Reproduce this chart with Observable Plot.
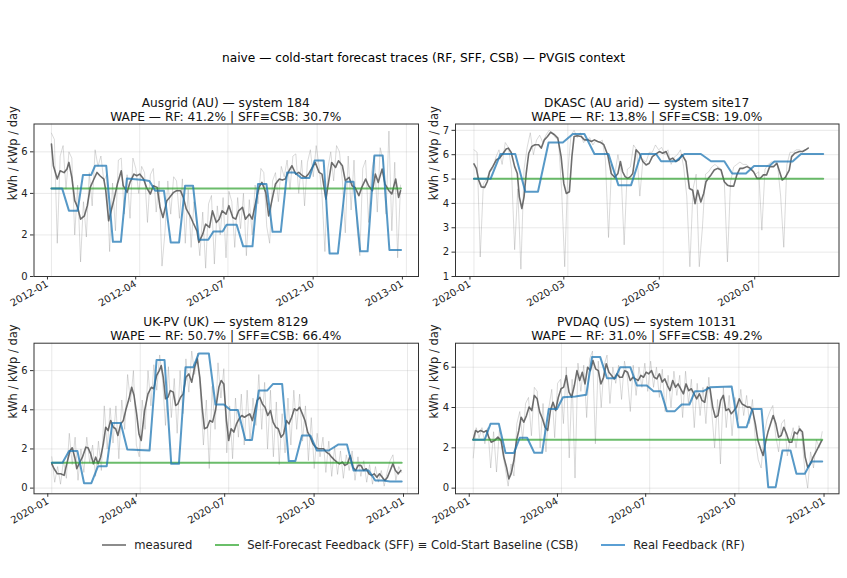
<!DOCTYPE html>
<html><head><meta charset="utf-8">
<script src="https://cdn.jsdelivr.net/npm/d3@7"></script>
<script src="https://cdn.jsdelivr.net/npm/@observablehq/plot@0.6"></script>
<style>
html,body{margin:0;padding:0;background:#fff;}
#fig{position:relative;width:847px;height:578px;overflow:hidden;font-family:"DejaVu Sans",sans-serif;color:#000;background:#fff;}
.t{position:absolute;text-align:center;white-space:nowrap;}
.panel{position:absolute;}
#legend{position:absolute;left:0;width:847px;top:537px;height:16px;display:flex;justify-content:center;align-items:center;font-size:11.6px;color:#222;}
.item{display:flex;align-items:center;margin:0 11.5px;}
.sw{width:24px;height:0;border-top:2px solid;margin-right:8px;}
</style></head>
<body><div id="fig"></div>
<script>
// ---------- text ----------
const mainTitle = "naive — cold-start forecast traces (RF, SFF, CSB) — PVGIS context";
const panelNames = ["Ausgrid (AU) — system 184", "DKASC (AU arid) — system site17", "UK-PV (UK) — system 8129", "PVDAQ (US) — system 10131"];
const wapeRF = ["41.2%", "13.8%", "50.7%", "31.0%"];
const wapeSFF = ["30.7%", "19.0%", "66.4%", "49.2%"];
const legendLabels = ["measured", "Self-Forecast Feedback (SFF) ≡ Cold-Start Baseline (CSB)", "Real Feedback (RF)"];
const yLabel = "kWh / kWp / day";
const startDates = ["2012-01-01", "2020-01-01", "2020-01-01", "2020-01-01"];

// ---------- tick labels ----------
const ausgridXTicks = ["2012-01-01","2012-04-01","2012-07-01","2012-10-01","2013-01-01"];
const dkascXTicks = ["2020-01-01","2020-03-01","2020-05-01","2020-07-01"];
const ukXTicks = ["2020-01-01","2020-04-01","2020-07-01","2020-10-01","2021-01-01"];
const pvdaqXTicks = ["2020-01-01","2020-04-01","2020-07-01","2020-10-01","2021-01-01"];
const ausgridYTicks = [0,2,4,6];
const dkascYTicks = [1,2,3,4,5,6,7];
const ukYTicks = [0,2,4,6];
const pvdaqYTicks = [0,2,4,6];

// ---------- Ausgrid ----------
const ausgridRawStep = 3;
const ausgridRaw = [6.9,6.6,1.6,5.8,6.3,4.2,6.0,5.7,2.0,4.4,
0.7,3.6,1.9,5.0,3.4,6.1,5.3,5.8,4.6,4.9,
1.2,4.5,2.2,5.6,5.7,3.0,4.9,2.8,5.7,5.2,
4.0,5.3,5.0,2.6,4.9,5.2,3.1,4.6,0.5,2.1,
4.6,3.0,4.8,4.6,2.8,4.7,1.6,4.2,1.4,3.6,
2.4,1.0,3.1,0.4,3.5,3.9,0.6,3.4,2.0,3.8,
0.9,4.1,3.6,1.4,3.8,2.3,4.0,1.0,3.7,2.0,
4.4,3.5,5.2,5.0,2.4,1.6,4.6,5.0,3.6,5.3,
4.8,5.6,4.2,5.8,5.9,4.0,5.6,3.4,5.5,6.1,
4.8,6.3,5.3,3.9,1.2,5.2,6.0,4.6,6.3,6.0,
4.6,2.1,5.8,3.2,5.6,2.4,1.0,5.2,5.6,2.6,
5.0,5.8,3.1,6.2,5.6,3.0,7.0,2.2,5.5,0.9,4.4];
const ausgridRollDay = [0,2,6,9,13,16,18,21,24,27,30,34,37,40,43,47,50,54,56,59,62,65,68,72,74,78,81,85,88,91,95,98,102,105,109,112,115,119,122,126,129,133,136,139,143,146,150,152,156,159,163,166,170,173,176,180,183,187,190,193,197,200,204,207,211,214,217,221,224,228,231,235,238,241,245,248,252,255,259,262,265,269,272,276,279,283,286,289,293,296,300,303,307,310,313,317,320,324,327,331,334,337,341,344,348,351,355,358,360];
const ausgridRoll = [6.38,5.33,4.69,5.09,5.0,5.17,5.49,4.77,3.65,3.33,2.76,2.92,3.41,4.29,4.61,5.01,4.85,4.69,4.13,2.68,3.25,3.81,4.45,5.09,4.37,4.05,4.53,4.93,4.85,4.93,4.69,4.29,3.97,4.37,4.29,3.33,2.84,3.65,3.81,4.05,4.13,4.13,3.81,3.25,2.92,2.6,2.2,1.64,2.04,2.52,2.36,3.16,2.6,2.76,3.16,3.0,3.41,2.84,2.76,3.16,3.33,2.76,3.0,2.76,3.65,4.29,4.53,4.05,2.92,3.81,4.45,4.69,4.64,4.69,5.09,5.33,4.93,5.01,4.85,4.77,4.93,5.25,5.49,5.01,4.93,3.73,4.61,5.49,5.25,5.57,5.33,4.61,4.77,4.37,4.29,3.89,4.29,4.69,4.37,4.13,4.93,4.53,5.17,4.45,4.13,3.97,4.69,3.81,4.13];
const ausgridRfDay = [0,11,18,27,32.5,41,45,56.5,63.4,71.6,77.8,95,101,107,116,123,131.6,137.8,146,152,161.7,167,176.5,180.6,191,197.7,207.3,213,221.7,228,236.5,243,250.8,257.7,266,271.4,280.7,286.8,295.4,303.3,311.5,318.4,326,333,341.6,348.5,360.5];
const ausgridRf = [4.24,4.24,3.17,3.17,4.89,4.89,5.33,5.33,1.67,1.67,4.72,4.64,4.6,4.13,4.13,1.64,1.64,4.37,4.37,1.77,1.77,2.17,2.17,2.49,2.49,1.45,1.45,4.45,4.45,2.15,2.15,5.01,5.01,4.74,4.74,5.58,5.58,1.11,1.11,4.56,4.56,1.21,1.21,5.82,5.82,1.28,1.28];
const ausgridCsb = 4.24;

// ---------- DKASC ----------
const dkascRawStep = 2;
const dkascRaw = [6.2,6.1,1.8,4.8,5.0,5.3,5.4,5.9,6.2,5.6,
6.5,6.3,5.4,2.1,4.6,1.3,5.4,6.3,6.9,6.0,
6.6,6.8,6.5,6.8,7.0,6.9,6.7,6.6,4.6,1.4,
5.3,6.8,7.0,6.7,6.9,6.5,6.6,6.7,6.4,6.6,
6.5,6.6,5.8,2.6,5.6,5.2,6.0,5.3,2.3,5.4,
5.5,6.4,6.2,4.3,5.8,5.7,6.1,6.1,6.4,6.2,
6.3,6.0,6.2,5.6,5.9,6.0,6.2,5.5,4.3,1.4,
4.6,5.2,1.4,3.0,5.2,5.3,5.5,5.6,5.5,5.4,
4.9,1.6,4.9,5.5,5.6,5.7,5.6,5.6,5.5,5.3,
5.2,5.3,2.9,5.4,5.6,5.7,5.7,5.6,4.3,2.2,
5.6,6.1,6.1,6.2,6.2,6.1,6.2,6.3];
const dkascRollDay = [0,1.5,3,4.7,6.8,8.5,10,12,14.3,16.4,18,20.6,22,23.8,26,27.7,29,30.6,32,33.4,35,37,39,41.3,43,45,47,49,51.5,53.6,55.7,57.4,59,61,62.6,64,66,68.5,70.6,72.8,75,77,79,81,83,85.5,87.7,90,92,93.6,95,96.6,98.3,100,101.5,103.6,105.7,107.9,110,112,114,116.4,118.5,120.6,122.8,125,127,129,131,133,135.5,137.7,139.8,141.3,143,145,146.8,148.3,149.8,151.5,153.6,155.7,157.9,160,162,164,166,168,170,172,174.5,176.6,178.7,180.9,183,185,187,189,191.5,193.6,195.7,197,199,201.5,203,205,208,210,212,213.6];
const dkascRoll = [5.62,5.44,4.96,4.68,4.66,4.89,5.3,5.51,5.79,5.86,6.0,6.23,6.27,6.09,5.51,5.23,4.27,3.79,4.27,5.23,6.06,6.34,6.41,6.41,6.27,6.61,6.75,6.92,6.82,6.68,5.92,4.82,4.41,4.48,5.92,6.75,6.78,6.75,6.61,6.61,6.54,6.61,6.54,6.5,6.41,5.99,5.23,5.07,5.23,5.72,5.3,5.1,5.03,5.1,5.23,6.2,6.06,5.72,5.58,5.65,5.92,6.03,6.13,6.06,6.13,5.79,5.86,5.72,5.79,6.0,5.72,4.61,4.54,3.99,4.54,4.06,4.41,4.89,5.03,5.17,5.37,5.44,5.37,4.89,4.75,4.71,4.71,5.17,5.44,5.44,5.51,5.44,5.3,5.03,5.03,5.17,5.17,5.51,5.51,5.65,5.23,4.96,5.07,5.37,5.92,6.06,6.13,6.13,6.2,6.27];
const dkascRfDay = [0,10.6,17,26.4,32.8,40.9,47.7,56.8,63.2,70.6,77,86,92.3,100.4,106.8,116.4,119.6,129,134.5,145,151.5,160,165,173.8,179,188.7,192,203.6,209,223.2];
const dkascRf = [5.01,5.01,6.03,6.03,4.48,4.48,6.5,6.5,6.85,6.85,6.03,6.03,4.75,4.75,6.03,6.03,5.73,5.73,6.03,6.03,5.73,5.73,5.23,5.23,5.54,5.54,5.72,5.72,6.03,6.03];
const dkascCsb = 5.01;

// ---------- UK-PV ----------
const ukRawStep = 3;
const ukRaw = [1.6,0.3,1.1,0.2,1.4,0.5,2.8,1.2,2.6,0.4,
2.0,0.8,2.6,1.3,2.2,0.6,2.4,0.9,4.2,2.0,
4.1,2.3,4.2,1.5,4.5,3.0,5.8,4.4,6.0,2.2,
1.6,4.5,3.0,6.0,4.2,6.3,5.0,6.8,5.5,3.2,
6.2,3.6,5.6,2.8,6.0,3.8,6.6,4.9,7.0,5.8,
6.9,4.8,2.2,4.5,1.0,5.2,3.0,6.4,4.6,6.1,
1.8,4.2,1.5,4.6,2.6,4.8,2.2,5.0,2.4,4.6,
3.2,5.8,3.0,5.4,2.0,5.0,1.6,4.4,1.2,3.8,
1.8,4.6,2.2,5.0,3.0,4.8,2.4,4.2,1.4,3.6,
1.0,2.8,1.6,2.6,0.8,2.4,0.6,2.1,0.7,1.9,
0.5,1.7,0.9,1.9,0.4,1.6,0.6,1.4,0.3,1.2,
0.2,1.1,0.3,0.9,0.1,0.8,1.4,1.7,0.4,1.1,0.8];
const ukRollDay = [0,2.4,5.8,9.2,12.7,15.4,18.8,21,23.6,25.7,28,31.5,35,37.3,40,42.8,45.2,47.6,50.3,53,55.5,57.9,60.6,63.3,65.7,68,70.9,73.6,76,79.4,82.2,84.6,87.3,89.7,92,95.5,99,102.4,105,107.8,110.6,112.6,114.7,117,119.5,122,125,127.4,129.7,132.5,135.2,138,141,144,146.9,149.6,152.3,154.7,157,160,162.6,165.4,168.4,171.9,174.3,177,179.7,182,184.5,187.3,190,192.7,195.5,198.2,201,203.7,206.4,208.8,211.2,214,216.7,219.4,222.2,225,227.7,230.4,233,235.9,238.6,241.4,244,246.8,249.6,252.3,255,257.8,260.5,263.3,266,268.7,271.5,274.2,277,279.7,282.4,285.2,288,290.7,293.4,296,298.9,301.6,304.3,307,309.8,312.6,315.3,318,320.8,323.5,326.3,329,331.7,334.5,337.2,340,342.7,345.4,348.2,350.9,353.6,356.4,359.1];
const ukRoll = [1.24,0.99,0.73,0.73,0.65,1.24,1.92,2.06,1.58,0.99,1.24,1.58,2.09,2.06,1.75,1.24,1.58,1.24,1.58,2.26,3.11,2.94,3.45,3.11,3.03,2.69,3.28,3.45,3.96,4.56,5.15,4.73,3.79,2.77,2.43,3.96,4.81,5.15,5.07,5.75,6.0,6.26,5.66,4.56,4.64,4.98,4.9,4.22,4.3,4.64,4.81,5.66,5.83,5.41,6.17,6.6,5.66,4.13,3.03,3.11,3.45,3.37,3.96,5.15,5.49,5.32,3.45,2.43,3.03,2.86,3.28,3.54,3.71,3.62,3.71,3.79,3.45,3.96,4.47,4.64,4.3,4.13,3.71,3.96,3.37,3.11,3.03,2.6,2.77,3.45,3.28,3.62,4.05,3.96,4.13,3.79,3.45,2.86,2.6,2.26,2.09,2.01,2.01,2.01,1.84,1.75,1.58,1.44,1.33,1.24,1.33,1.16,1.24,1.67,1.07,0.9,1.16,1.16,0.9,0.99,0.73,0.65,0.73,0.56,0.73,0.56,0.39,0.56,0.9,1.24,0.9,0.73,0.9];
const ukRfDay = [0,11,17.8,26.4,33.2,40.7,47.6,56.5,62.3,70.9,77.7,100.6,107.8,116,122.9,130.8,137.6,145.5,151.3,161.6,168.4,177,183.8,191.4,199.2,206,213,221.5,227.7,237,243.8,250.6,257.4,266,272.8,285,295,303.7,310.5,326,332.8,341,348,360];
const ukRf = [1.29,1.29,1.89,1.89,0.25,0.25,1.12,1.12,3.33,3.33,1.97,1.92,6.54,6.54,1.24,1.24,6.17,6.17,6.88,6.88,4.27,4.27,3.99,3.99,2.46,2.46,4.98,4.98,5.32,5.32,1.38,1.38,2.69,2.69,1.92,1.92,2.23,2.23,0.9,0.9,0.39,0.39,0.34,0.34];
const ukCsb = 1.29;

// ---------- PVDAQ ----------
const pvdaqRawStep = 3;
const pvdaqRaw = [1.5,3.0,2.5,3.0,2.2,3.0,1.0,2.8,0.8,2.9,
1.8,1.0,0.1,1.2,0.6,3.2,3.8,2.4,4.2,4.5,
2.6,5.0,4.8,2.0,4.2,1.8,4.0,4.9,2.5,5.2,
5.4,3.2,6.0,1.5,5.4,0.5,6.2,4.8,6.1,3.5,
6.4,6.8,2.2,6.3,4.0,6.1,6.6,4.2,6.0,5.2,
6.1,4.4,6.3,5.5,3.8,6.1,4.6,6.0,5.0,6.2,
4.8,6.3,5.0,6.0,4.5,5.9,3.8,5.6,4.0,5.8,
4.6,5.6,3.5,5.8,4.2,5.4,3.0,5.2,3.6,5.0,
3.2,5.5,3.8,2.0,4.4,1.2,5.0,3.0,4.6,2.6,
4.5,3.4,4.9,3.6,4.6,3.2,4.4,2.4,1.4,1.0,
2.6,3.4,3.8,4.1,2.6,1.8,3.2,3.4,1.6,2.4,
3.0,2.0,3.1,2.6,0.9,0.0,1.8,1.0,2.4,2.0,2.8];
const pvdaqRollDay = [0,2.4,4.8,7.5,11,13.7,16,18.5,22,25.4,28.8,31.6,34.3,36.7,39,41.9,44.6,47,49.4,52.1,54.9,57.6,60.4,63,65.9,68.6,71.4,74.1,76.8,79.6,82.3,85,87.8,90.6,93.3,96,98.8,101.5,104.3,107,109.8,112.5,115.3,118,120.8,123.5,126.2,129,131.7,134.5,137.2,140,142.7,145.5,148.2,151,153.7,156.4,159.2,162,164.7,167.4,170.2,172.9,175.6,178.4,181,183.9,186.6,189.4,192,194.9,197.6,200.3,203,205.8,208.6,211.3,214,216.8,219.5,222.3,225,227.8,230.5,233.3,236,238.8,241.5,244.3,247,249.7,252.5,255.2,258,260.7,263.5,266.2,269,271.7,274.4,277.2,280,282.7,285.4,288.2,291,293.7,296.4,299,301.9,304,306.7,309.4,312.2,315,317.7,320.4,323.2,326,328.6,331.4,334.1,336.9,339.6,342.4,345,347.9,350.6,353.4,356,359.5];
const pvdaqRoll = [2.4,2.86,2.78,2.86,2.78,2.86,2.53,2.28,2.36,2.53,2.36,1.54,1.04,0.46,0.71,1.37,2.36,2.86,3.52,3.27,3.6,4.02,3.85,4.6,4.43,3.77,3.44,3.02,2.86,3.85,4.26,3.85,4.51,4.93,5.01,5.59,4.76,4.51,5.09,5.83,5.34,5.75,5.17,6.0,5.83,6.33,5.92,5.83,5.17,5.5,6.17,5.75,5.59,5.42,5.67,5.5,5.5,5.83,5.75,5.34,5.5,5.42,5.34,5.59,5.5,5.75,5.67,5.83,5.5,5.42,5.67,5.26,5.42,5.09,4.84,5.34,5.01,5.17,4.93,4.68,5.17,4.84,4.93,4.68,4.43,4.68,4.35,4.26,5.01,4.93,4.02,3.52,3.6,4.35,4.6,3.85,3.93,3.69,3.85,4.02,4.43,4.18,4.1,4.02,4.02,3.85,3.19,2.36,1.95,1.62,2.36,2.78,3.19,3.6,3.19,2.53,2.61,3.02,2.69,2.28,2.28,2.78,2.69,2.94,2.78,1.54,1.04,1.21,1.54,1.79,2.03,2.36];
const pvdaqRfDay = [0,11.7,17.8,26.4,33.3,41.9,48,55.6,63,71,77.9,86.4,92.6,105.3,116.6,122.5,131,138,146.5,151.6,162,168.8,179,186,193.5,199.7,208,215,223,228.8,237.4,244.3,266.6,273.4,282,288,297.4,304.3,312,319,327.3,333.4,342,348.9,360];
const pvdaqRf = [2.4,2.4,3.19,3.19,1.74,1.74,2.5,2.5,1.75,1.75,3.93,3.93,4.51,4.55,4.63,6.5,6.5,5.45,5.45,6.0,6.0,5.09,5.09,4.81,4.81,3.82,3.82,4.15,4.15,4.81,4.81,5.0,5.04,3.02,3.02,3.93,3.93,0.05,0.05,1.87,1.87,0.71,0.71,1.32,1.32];
const pvdaqCsb = 2.4;

// ---------- helpers ----------
const DAY = 864e5;
const at = (start, d) => new Date(Date.parse(start) + d * DAY);
const byDays = (start, days, vals) => vals.slice(0, days.length).map((v, i) => ({date: at(start, days[i]), value: v}));
const byStep = (start, step, vals) => vals.map((v, i) => ({date: at(start, i * step), value: v}));

const COL = {raw: "#8a8a8a", roll: "#555555", csb: "#2ca02c", rf: "#1f77b4"};

const dataSets = [
  {raw: byStep(startDates[0], ausgridRawStep, ausgridRaw), roll: byDays(startDates[0], ausgridRollDay, ausgridRoll), rf: byDays(startDates[0], ausgridRfDay, ausgridRf), csb: ausgridCsb, xt: ausgridXTicks, yt: ausgridYTicks},
  {raw: byStep(startDates[1], dkascRawStep, dkascRaw), roll: byDays(startDates[1], dkascRollDay, dkascRoll), rf: byDays(startDates[1], dkascRfDay, dkascRf), csb: dkascCsb, xt: dkascXTicks, yt: dkascYTicks},
  {raw: byStep(startDates[2], ukRawStep, ukRaw), roll: byDays(startDates[2], ukRollDay, ukRoll), rf: byDays(startDates[2], ukRfDay, ukRf), csb: ukCsb, xt: ukXTicks, yt: ukYTicks},
  {raw: byStep(startDates[3], pvdaqRawStep, pvdaqRaw), roll: byDays(startDates[3], pvdaqRollDay, pvdaqRoll), rf: byDays(startDates[3], pvdaqRfDay, pvdaqRf), csb: pvdaqCsb, xt: pvdaqXTicks, yt: pvdaqYTicks}
];

// layout (pixels)
const layout = [
  {left: 0,   top: 118, W: 425, H: 193,   ml: 33.5, mr: 7,   mt: 5.5, mb: 35, xd: [-18, 378.5],  yd: [0, 7.34]},
  {left: 423, top: 118, W: 424, H: 193,   ml: 32,   mr: 8.5, mt: 5.5, mb: 35, xd: [-11.8, 233.3], yd: [1, 7.26]},
  {left: 0,   top: 337, W: 425, H: 191.3, ml: 33.5, mr: 7,   mt: 5.7, mb: 35, xd: [-18.3, 377.3], yd: [-0.29, 7.40]},
  {left: 423, top: 337, W: 424, H: 191.3, ml: 32,   mr: 8.5, mt: 5.7, mb: 35, xd: [-18.3, 377.3], yd: [-0.28, 7.19]}
];

const fig = document.getElementById("fig");
const mt = document.createElement("div");
mt.className = "t";
mt.style.cssText = "left:0;width:847px;top:50px;line-height:16px;font-size:12.2px;";
mt.textContent = mainTitle;
fig.appendChild(mt);

const fmt = d3.utcFormat("%Y-%m");

dataSets.forEach((ds, i) => {
  const L = layout[i];
  const s = startDates[i];
  const first = ds.rf[0].date, last = ds.rf[ds.rf.length - 1].date;
  const csbLine = [{date: first, value: ds.csb}, {date: last, value: ds.csb}];
  const xt = ds.xt.map(d => new Date(d));
  const chart = Plot.plot({
    width: L.W, height: L.H,
    marginLeft: L.ml, marginRight: L.mr, marginTop: L.mt, marginBottom: L.mb,
    style: {fontFamily: "DejaVu Sans, sans-serif", fontSize: "10px", color: "#222", background: "transparent", overflow: "visible"},
    x: {type: "utc", domain: [at(s, L.xd[0]), at(s, L.xd[1])]},
    y: {domain: L.yd},
    marks: [
      Plot.gridX(xt, {stroke: "#b0b0b0", strokeOpacity: 0.35, strokeWidth: 0.8}),
      Plot.gridY(ds.yt, {stroke: "#b0b0b0", strokeOpacity: 0.35, strokeWidth: 0.8}),
      Plot.lineY(ds.raw, {x: "date", y: "value", stroke: COL.raw, strokeOpacity: 0.4, strokeWidth: 0.8}),
      Plot.lineY(ds.roll, {x: "date", y: "value", stroke: COL.roll, strokeOpacity: 0.85, strokeWidth: 1.6}),
      Plot.lineY(csbLine, {x: "date", y: "value", stroke: COL.csb, strokeOpacity: 0.7, strokeWidth: 2}),
      Plot.lineY(ds.rf, {x: "date", y: "value", stroke: COL.rf, strokeOpacity: 0.75, strokeWidth: 2}),
      Plot.frame({stroke: "#333", strokeWidth: 1}),
      Plot.axisX(xt, {tickFormat: fmt, tickRotate: -30, textAnchor: "end", tickSize: 3.5, tickPadding: 3, dx: -4, label: null, stroke: "#333", fill: "#222"}),
      Plot.axisY(ds.yt, {tickSize: 3.5, tickPadding: 3, label: null, stroke: "#333", fill: "#222"}),
      Plot.text([yLabel], {text: d => d, frameAnchor: "left", rotate: -90, dx: -21, fontSize: 11.5, fill: "#222"})
    ]
  });
  const wrap = document.createElement("div");
  wrap.className = "panel";
  wrap.style.left = L.left + "px";
  wrap.style.top = L.top + "px";
  wrap.appendChild(chart);
  fig.appendChild(wrap);

  const cx = L.left + L.ml + (L.W - L.ml - L.mr) / 2;
  const tt = document.createElement("div");
  tt.className = "t";
  tt.style.cssText = `left:${cx - 210}px;width:420px;top:${L.top + L.mt - 26.5}px;line-height:13.5px;font-size:12.2px;color:#111;`;
  tt.innerHTML = `${panelNames[i]}<br>WAPE — RF: ${wapeRF[i]} | SFF≡CSB: ${wapeSFF[i]}`;
  fig.appendChild(tt);
});

// legend
const lg = document.createElement("div");
lg.id = "legend";
const swCols = ["#8c8c8c", "#6abf69", "#5a9fd4"];
legendLabels.forEach((lab, k) => {
  const it = document.createElement("div");
  it.className = "item";
  const sw = document.createElement("span");
  sw.className = "sw";
  sw.style.borderTopColor = swCols[k];
  const tx = document.createElement("span");
  tx.textContent = lab;
  it.appendChild(sw); it.appendChild(tx);
  lg.appendChild(it);
});
fig.appendChild(lg);
</script>
</body></html>
